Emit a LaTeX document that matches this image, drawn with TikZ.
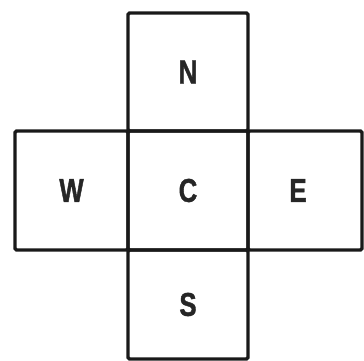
\documentclass[tikz,border=0pt]{standalone}
\usepackage{fontspec}
\newfontfamily\cellfont[FakeStretch=0.78,FakeBold=1.2]{Liberation Sans}
\begin{document}
\begin{tikzpicture}[x=1pt,y=1pt,
  cell/.style={draw=black!90, line width=3.2pt, rounded corners=1.5pt, inner sep=0pt,
    font=\cellfont\bfseries\fontsize{33}{33}\selectfont, text=black!85}]
\useasboundingbox (0,0) rectangle (364,361);
\node[cell, minimum width=120pt, minimum height=118pt] (N) at (188,289) {N};
\node[cell, minimum width=113pt, minimum height=119pt] (W) at (71.5,170.5) {W};
\node[cell, minimum width=120pt, minimum height=119pt] (C) at (188,170.5) {C};
\node[cell, minimum width=114pt, minimum height=119pt] (E) at (305,170.5) {\hspace*{-14pt}E};
\node[cell, minimum width=120pt, minimum height=109pt] (S) at (188,56.5) {S};
\end{tikzpicture}
\end{document}
